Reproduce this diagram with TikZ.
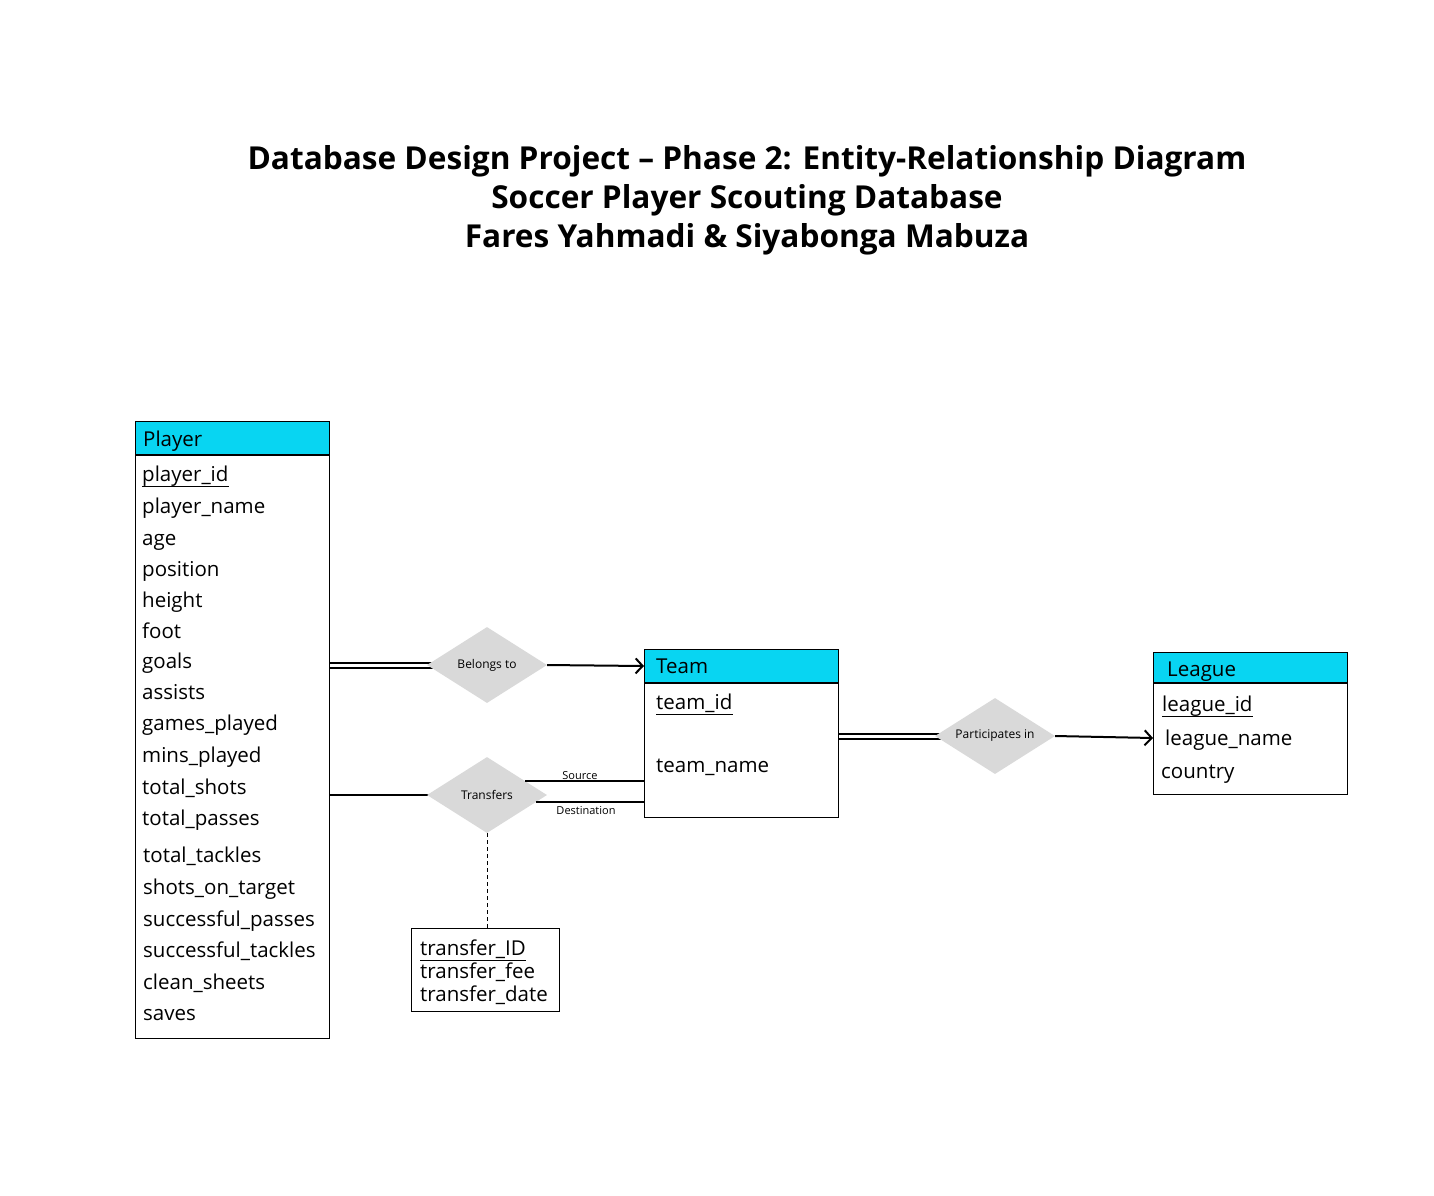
\documentclass[tikz,border=0pt]{standalone}
\usepackage{fontspec}
\setmainfont{Open Sans}
\usetikzlibrary{shapes.geometric,arrows.meta}
\definecolor{hdr}{HTML}{08D5F2}
\definecolor{dia}{HTML}{D9D9D9}
\begin{document}
\begin{tikzpicture}[x=1pt,y=-1pt,
  ent/.style={draw=black, line width=1pt, fill=white, inner sep=0pt, anchor=north west},
  hdrbox/.style={draw=black, line width=1pt, fill=hdr, inner sep=0pt, anchor=north west},
  sep/.style={line width=2pt},
  attr/.style={anchor=west, inner sep=0pt, text height=18pt, text depth=4pt, font=\fontsize{20.5}{24}\selectfont},
  rel/.style={diamond, fill=dia, inner sep=0pt, minimum width=120pt, minimum height=76pt, aspect=1.58, font=\fontsize{12}{14}\selectfont},
  conn/.style={line width=2pt},
  arr/.style={line width=2pt, -{Straight Barb[length=7pt,width=15pt,line width=2pt]}},
  lbl/.style={inner sep=0pt, font=\fontsize{11}{13}\selectfont},
]
\useasboundingbox (0,0) rectangle (1434,1195);
\fill[white] (0,0) rectangle (1434,1195);

% Title
\node[align=center, font=\bfseries\fontsize{31.6}{39}\selectfont] (title) at (747,200)
  {Database Design Project -- Phase 2: Entity-Relationship Diagram\\Soccer Player Scouting Database\\Fares Yahmadi \& Siyabonga Mabuza};

% Player entity
\node[ent, minimum width=194pt, minimum height=617pt] (player) at (135,421) {};
\node[hdrbox, minimum width=194pt, minimum height=33pt] (playerh) at (135,421) {};
\draw[sep] (playerh.south west) -- (playerh.south east);
\node[attr] (ph) at (143,439) {Player};
\node[attr] (p1) at (142,474) {player\_id};
\draw[line width=1pt] ([yshift=-5.5pt]p1.base west) -- ([yshift=-5.5pt]p1.base east);
\node[attr] (p2) at (142,506) {player\_name};
\node[attr] (p3) at (142,538) {age};
\node[attr] (p4) at (142,569) {position};
\node[attr] (p5) at (142,600) {height};
\node[attr] (p6) at (142,631) {foot};
\node[attr] (p7) at (142,661) {goals};
\node[attr] (p8) at (142,692) {assists};
\node[attr] (p9) at (142,723) {games\_played};
\node[attr] (p10) at (142,755) {mins\_played};
\node[attr] (p11) at (142,787) {total\_shots};
\node[attr] (p12) at (142,818) {total\_passes};
\node[attr] (p13) at (143,855) {total\_tackles};
\node[attr] (p14) at (143,887) {shots\_on\_target};
\node[attr] (p15) at (143,919) {successful\_passes};
\node[attr] (p16) at (143,950) {successful\_tackles};
\node[attr] (p17) at (143,982) {clean\_sheets};
\node[attr] (p18) at (143,1013) {saves};

% Team entity
\node[ent, minimum width=194pt, minimum height=168pt] (team) at (644,649) {};
\node[hdrbox, minimum width=194pt, minimum height=33pt] (teamh) at (644,649) {};
\draw[sep] (teamh.south west) -- (teamh.south east);
\node[attr] (th) at (656,666) {Team};
\node[attr] (t1) at (656,702) {team\_id};
\draw[line width=1pt] ([yshift=-5.5pt]t1.base west) -- ([yshift=-5.5pt]t1.base east);
\node[attr] (t2) at (656,765) {team\_name};

% League entity
\node[ent, minimum width=194pt, minimum height=142pt] (league) at (1153,652) {};
\node[hdrbox, minimum width=194pt, minimum height=30pt] (leagueh) at (1153,652) {};
\draw[sep] (leagueh.south west) -- (leagueh.south east);
\node[attr] (lh) at (1167,669) {League};
\node[attr] (l1) at (1162,704) {league\_id};
\draw[line width=1pt] ([yshift=-5.5pt]l1.base west) -- ([yshift=-5.5pt]l1.base east);
\node[attr] (l2) at (1165,738) {league\_name};
\node[attr] (l3) at (1161,771) {country};

% Transfer attributes
\node[ent, minimum width=148pt, minimum height=83pt] (tfr) at (411,928) {};
\node[attr] (x1) at (420,948) {transfer\_ID};
\draw[line width=1pt] ([yshift=-5.5pt]x1.base west) -- ([yshift=-5.5pt]x1.base east);
\node[attr] (x2) at (420,971) {transfer\_fee};
\node[attr] (x3) at (420,994) {transfer\_date};

% Relationship connectors (drawn beneath diamonds)
\coordinate (belc) at (487,665);
\coordinate (trac) at (487,795);
\coordinate (parc) at (995,736);
\draw[conn] ([yshift=2.5pt]player.east |- belc) -- ([yshift=2.5pt]belc);
\draw[conn] ([yshift=-2.5pt]player.east |- belc) -- ([yshift=-2.5pt]belc);
\draw[conn] (player.east |- trac) -- (trac);
\draw[conn] ([yshift=2.5pt]team.east |- parc) -- ([yshift=2.5pt]parc);
\draw[conn] ([yshift=-2.5pt]team.east |- parc) -- ([yshift=-2.5pt]parc);

% Relationships
\node[rel] (bel) at (belc) {Belongs to};
\node[rel] (tra) at (trac) {Transfers};
\node[rel] (par) at (parc) {Participates in};

\draw[arr] (bel.east) -- (team.west |- teamh.west);
\draw[arr] (par.east) -- (league.west |- l2.west);

\coordinate (srcA) at ([shift={(-22,-14)}]tra.east);
\coordinate (dstA) at ([shift={(-11,7)}]tra.east);
\draw[conn] (srcA) -- (srcA -| team.west);
\draw[conn] (dstA) -- (dstA -| team.west);
\node[lbl] (srcl) at (580,776) {Source};
\node[lbl] (dstl) at (586,811) {Destination};

\draw[line width=1pt, dash pattern=on 4pt off 3pt] (tra.south) -- (tra.south |- tfr.north);
\end{tikzpicture}
\end{document}
